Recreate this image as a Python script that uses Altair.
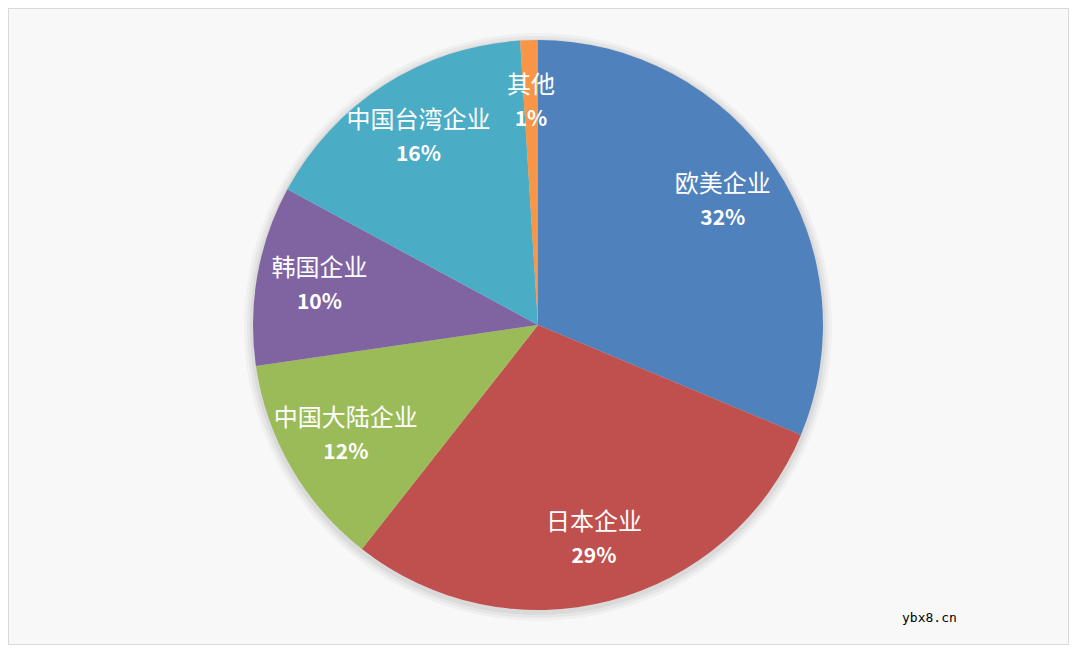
import altair as alt
import pandas as pd

categories = ["欧美企业", "日本企业", "中国大陆企业", "韩国企业", "中国台湾企业", "其他"]
shares = [31.3, 29.3, 12.1, 10.2, 16.1, 1.0]
pct_labels = ["32%", "29%", "12%", "10%", "16%", "1%"]
colors = ["#4F81BD", "#C0504D", "#9BBB59", "#8064A2", "#4BACC6", "#F79646"]

df = pd.DataFrame({
    "cat": categories,
    "share": shares,
    "pct": pct_labels,
    "idx": list(range(len(categories))),
})

CX, CY, R = 530, 317, 285
LR = 222

theta = alt.Theta("share:Q", stack=True)
color = alt.Color("cat:N", scale=alt.Scale(domain=categories, range=colors), legend=None)
order = alt.Order("idx:Q")

base = alt.Chart(df).encode(theta=theta, order=order)

shadow_df = pd.DataFrame({"a": [0]})
shadows = [
    alt.Chart(shadow_df).mark_arc(theta=0, theta2=6.2832, radius=R + r, color="#000000", opacity=o)
    .encode(x=alt.value(CX), y=alt.value(CY + 2))
    for r, o in [(9, 0.03), (6, 0.04), (3, 0.05)]
]

pie = base.mark_arc(radius=R, stroke=None).encode(
    color=color, x=alt.value(CX), y=alt.value(CY)
)

names = base.mark_text(
    radius=LR, dy=-17, font="Noto Sans CJK SC", fontSize=24, color="white"
).encode(text="cat:N", x=alt.value(CX), y=alt.value(CY))

pcts = base.mark_text(
    radius=LR, dy=17, font="Noto Sans CJK SC", fontSize=21, fontWeight="bold", color="white"
).encode(text="pct:N", x=alt.value(CX), y=alt.value(CY))

wm = alt.Chart(shadow_df).mark_text(
    text="ybx8.cn", font="DejaVu Sans Mono", fontSize=13, color="#000000", align="left"
).encode(x=alt.value(894), y=alt.value(610))

chart = alt.layer(*shadows, pie, names, pcts, wm).properties(
    width=1061, height=637, padding=0, autosize=alt.AutoSizeParams(type="none")
).configure_view(stroke="#D9D9D9", strokeWidth=2, fill="#F8F8F8")

chart.save("out.html", embed_options={"renderer": "svg", "actions": False})
